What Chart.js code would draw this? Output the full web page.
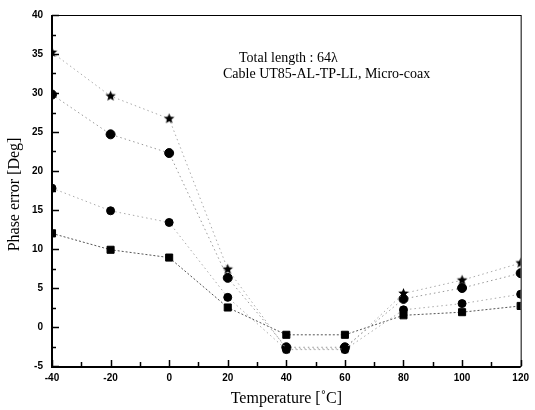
<!DOCTYPE html>
<html>
<head>
<meta charset="utf-8">
<script src="https://cdn.jsdelivr.net/npm/chart.js@4"></script>
<style>
html,body{margin:0;padding:0;background:#fff;}
#wrap{width:535px;height:410px;}
</style>
</head>
<body>
<div id="wrap"><canvas id="c" width="535" height="410"></canvas></div>
<script>
// Data
const temperatures = [-40, -20, 0, 20, 40, 60, 80, 100, 120];
const seriesStar    = [35.2, 29.6, 26.7, 7.4, -2.8, -2.8, 4.3, 6.0, 8.2];
const seriesCircle1 = [29.8, 24.7, 22.3, 6.3, -2.6, -2.6, 3.6, 5.0, 6.9];
const seriesCircle2 = [17.8, 14.9, 13.4, 3.8, -2.9, -2.9, 2.2, 3.0, 4.2];
const seriesSquare  = [12.0, 9.9, 8.9, 2.5, -1.0, -1.0, 1.5, 1.9, 2.7];
const xTicks = [-40, -20, 0, 20, 40, 60, 80, 100, 120];
const yTicks = [-5, 0, 5, 10, 15, 20, 25, 30, 35, 40];
const annotationLines = ['Total length : 64\u03bb', 'Cable UT85-AL-TP-LL, Micro-coax'];
const xTitle = 'Temperature [\u02daC]';
const yTitle = 'Phase error [Deg]';

function starCanvas(r) {
  const c = document.createElement('canvas');
  const s = Math.ceil(r * 2 + 2);
  c.width = s; c.height = s;
  const g = c.getContext('2d');
  g.fillStyle = '#000';
  g.beginPath();
  for (let i = 0; i < 10; i++) {
    const rr = i % 2 === 0 ? r : r * 0.45;
    const a = -Math.PI / 2 + i * Math.PI / 5;
    const px = s / 2 + rr * Math.cos(a), py = s / 2 + rr * Math.sin(a);
    if (i === 0) g.moveTo(px, py); else g.lineTo(px, py);
  }
  g.closePath();
  g.fill();
  return c;
}

const toXY = arr => arr.map((v, i) => ({x: temperatures[i], y: v}));

const framePlugin = {
  id: 'frame',
  afterDraw(chart) {
    const ctx = chart.ctx;
    const a = chart.chartArea;
    const xs = chart.scales.x, ys = chart.scales.y;
    ctx.save();
    ctx.strokeStyle = '#000';
    ctx.lineWidth = 1;
    ctx.strokeRect(a.left + 0.5, a.top + 0.5, a.right - a.left, a.bottom - a.top);
    ctx.lineWidth = 2;
    ctx.beginPath();
    ctx.moveTo(a.left, a.top); ctx.lineTo(a.left, a.bottom + 1); ctx.lineTo(a.right, a.bottom + 1);
    ctx.stroke();
    ctx.lineWidth = 1.5;
    ctx.beginPath();
    for (let v = -40; v <= 120; v += 10) {
      const px = Math.round(xs.getPixelForValue(v)) + 0.5;
      const len = (v % 20 === 0) ? 6 : 4;
      ctx.moveTo(px, a.bottom); ctx.lineTo(px, a.bottom - len);
    }
    for (let v = -5; v <= 40; v += 2.5) {
      const py = Math.round(ys.getPixelForValue(v)) + 0.5;
      const len = (v % 5 === 0) ? 7 : 4;
      ctx.moveTo(a.left, py); ctx.lineTo(a.left + len, py);
    }
    ctx.stroke();
    ctx.fillStyle = '#000';
    ctx.font = '14px "Liberation Serif", "Times New Roman", serif';
    ctx.textBaseline = 'middle';
    ctx.textAlign = 'left';
    ctx.fillText(annotationLines[0], 239, 58);
    ctx.fillText(annotationLines[1], 223, 74);
    ctx.font = '16px "Liberation Serif", "Times New Roman", serif';
    ctx.textAlign = 'center';
    ctx.fillText(xTitle, (a.left + a.right) / 2, 399);
    ctx.translate(15, (a.top + a.bottom) / 2 + 4);
    ctx.rotate(-Math.PI / 2);
    ctx.fillText(yTitle, 0, 0);
    ctx.restore();
  }
};

const lineDash = [1.5, 3];
const clipBox = {left: 0, right: 0, top: 10, bottom: 10};
new Chart(document.getElementById('c'), {
  type: 'line',
  data: {
    datasets: [
      {data: toXY(seriesStar), pointStyle: starCanvas(5.5), borderColor: '#aaa', borderWidth: 1, borderDash: lineDash, clip: clipBox},
      {data: toXY(seriesCircle1), pointStyle: 'circle', pointRadius: 4.5, pointBackgroundColor: '#000', pointBorderColor: '#000', borderColor: '#999', borderWidth: 1, borderDash: lineDash, clip: clipBox},
      {data: toXY(seriesCircle2), pointStyle: 'circle', pointRadius: 4, pointBackgroundColor: '#000', pointBorderColor: '#000', borderColor: '#aaa', borderWidth: 1, borderDash: lineDash, clip: clipBox},
      {data: toXY(seriesSquare), pointStyle: 'rect', pointRadius: 5, pointBackgroundColor: '#000', pointBorderColor: '#000', borderColor: '#555', borderWidth: 1, borderDash: [2, 2], clip: clipBox}
    ]
  },
  options: {
    responsive: false,
    animation: false,
    layout: {padding: {left: 0, right: 9, top: 14, bottom: 0}},
    plugins: {legend: {display: false}, tooltip: {enabled: false}},
    elements: {line: {tension: 0}},
    scales: {
      x: {
        type: 'linear', min: -40, max: 120,
        afterBuildTicks: s => { s.ticks = xTicks.map(v => ({value: v})); },
        afterFit: s => { s.height = 44; },
        grid: {display: false, drawTicks: false},
        border: {display: false},
        ticks: {padding: 6, color: '#000', font: {family: '"Liberation Sans", Arial, sans-serif', size: 10, weight: 'bold'}, callback: v => String(v)}
      },
      y: {
        type: 'linear', min: -5, max: 40,
        afterBuildTicks: s => { s.ticks = yTicks.map(v => ({value: v})); },
        afterFit: s => { s.width = 52; },
        grid: {display: false, drawTicks: false},
        border: {display: false},
        ticks: {padding: 9, color: '#000', font: {family: '"Liberation Sans", Arial, sans-serif', size: 10, weight: 'bold'}, callback: v => String(v)}
      }
    }
  },
  plugins: [framePlugin]
});
</script>
</body>
</html>
